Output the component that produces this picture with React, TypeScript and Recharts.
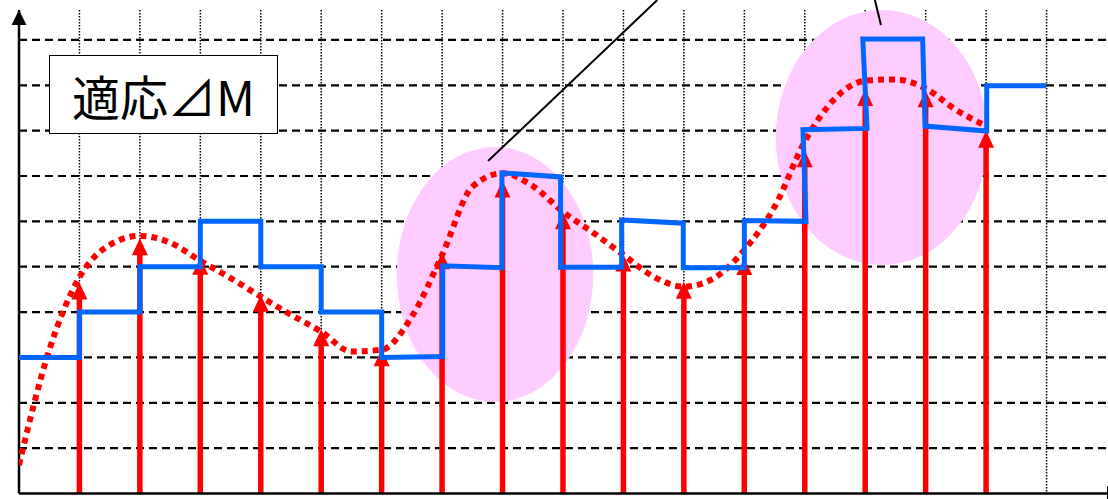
import React from "react";
import { ComposedChart, XAxis, YAxis, Bar, Line, CartesianGrid, ReferenceLine, ReferenceArea, ReferenceDot } from "recharts";

// sample positions (grid index) and the height reached by each red arrow
const sampleIdx = [1, 2, 3, 4, 5, 6, 7, 8, 9, 10, 11, 12, 13, 14, 15, 16];
const sampleVal = [4.65, 5.63, 5.2, 4.38, 3.62, 3.18, 5.32, 6.9, 6.2, 5.27, 4.67, 5.19, 7.57, 8.92, 8.89, 8.0];

// dotted analog signal, read every half grid step
const curveIdx = [0, 0.5, 1, 1.5, 2, 2.5, 3, 3.5, 4, 4.5, 5, 5.5, 6, 6.5, 7, 7.5, 8, 8.5, 9, 9.5, 10, 10.5, 11, 11.5, 12, 12.5, 13, 13.5, 14, 14.5, 15, 15.5, 16];
const curveVal = [0.63, 3.16, 4.77, 5.48, 5.68, 5.53, 5.13, 4.75, 4.34, 3.94, 3.57, 3.13, 3.17, 3.9, 5.26, 6.76, 7.06, 6.78, 6.21, 5.75, 5.26, 4.78, 4.56, 4.75, 5.37, 6.32, 7.76, 8.71, 9.1, 9.13, 8.93, 8.46, 8.1];

// staircase (adaptive delta modulation output) vertices
const stepX = [0, 1, 1, 2, 2, 3, 3, 4, 4, 5, 5, 6, 6, 7.01, 7.01, 7.99, 7.99, 8.96, 8.96, 9.97, 9.97, 10.99, 10.99, 12, 12, 13.02, 12.97, 14.03, 13.96, 14.95, 14.99, 16.01, 16.01, 16.99];
const stepY = [3, 3, 4, 4, 5, 5, 6, 6, 5, 5, 4, 4, 3, 3.02, 5.02, 4.98, 7.07, 6.98, 4.99, 4.99, 6.03, 5.96, 4.98, 4.98, 6.02, 6.0, 8.02, 8.05, 10.02, 10.02, 8.1, 7.99, 8.99, 8.99];

const gridX = [1, 2, 3, 4, 5, 6, 7, 8, 9, 10, 11, 12, 13, 14, 15, 16, 17];
const gridY = [1, 2, 3, 4, 5, 6, 7, 8, 9, 10];

// highlighted regions [x1, x2, y1, y2]
const highlights = [
  [6.25, 9.5, 2.02, 7.64],
  [12.52, 16.03, 5.04, 10.66],
];
// leader lines [x1, y1, x2, y2]
const leaders = [
  [7.76, 7.33, 10.56, 10.88],
  [14.26, 10.33, 14.16, 10.88],
];

const X_MAX = 18;
const Y_MAX = 10.66;

const samples = sampleIdx.map((x, i) => ({ x, v: sampleVal[i] }));
const curve = curveIdx.map((x, i) => ({ x, c: curveVal[i] }));
const steps = stepX.map((x, i) => ({ x, s: stepY[i] }));

const RED = "#FF0000";
const BLUE = "#0066FF";

const ArrowBar = (p: any) => {
  const cx = p.x + p.width / 2;
  const top = p.y;
  const bottom = p.y + p.height;
  return (
    <g>
      <rect x={cx - 2.75} y={top + 14} width={5.5} height={Math.max(0, bottom - top - 14)} fill={RED} />
      <polygon points={`${cx - 8},${top + 17} ${cx + 8},${top + 17} ${cx},${top}`} fill={RED} />
    </g>
  );
};

const Ellipse = (p: any) => (
  <ellipse cx={p.x + p.width / 2} cy={p.y + p.height / 2} rx={p.width / 2} ry={p.height / 2} fill="#FFCCFF" />
);

const UpHead = (p: any) => (
  <polygon points={`${p.cx - 7.5},${p.cy + 15} ${p.cx + 7.5},${p.cy + 15} ${p.cx},${p.cy}`} fill="#000" />
);
const RightHead = (p: any) => (
  <polygon points={`${p.cx},${p.cy - 7.5} ${p.cx},${p.cy + 7.5} ${p.cx + 15},${p.cy}`} fill="#000" />
);

// grid positions follow the plot box, the same linear mapping as the axes
const hGen = (props: any) => {
  const o = props.offset;
  return gridY.map((v) => o.top + o.height * (1 - v / Y_MAX));
};
const vGen = (props: any) => {
  const o = props.offset;
  return gridX.map((v) => o.left + (o.width * v) / X_MAX);
};

export default function App() {
  return (
    <div style={{ position: "absolute", left: 0, top: 0, width: 1108, height: 499, overflow: "hidden", background: "#fff" }}>
      <ComposedChart
        width={1108}
        height={499}
        data={samples}
        margin={{ top: 10, right: 1, bottom: 5.5, left: 19 }}
      >
        <XAxis type="number" dataKey="x" domain={[0, X_MAX]} ticks={gridX} hide allowDataOverflow />
        <YAxis type="number" domain={[0, Y_MAX]} ticks={gridY} hide allowDataOverflow />

        {highlights.map(([x1, x2, y1, y2], i) => (
          <ReferenceArea key={"h" + i} x1={x1} x2={x2} y1={y1} y2={y2} ifOverflow="visible" shape={Ellipse} />
        ))}

        <CartesianGrid
          vertical={false}
          horizontalCoordinatesGenerator={hGen}
          stroke="#000"
          strokeWidth={2.2}
          strokeDasharray="8 5"
        />
        <CartesianGrid
          horizontal={false}
          verticalCoordinatesGenerator={vGen}
          stroke="#000"
          strokeWidth={1.5}
          strokeDasharray="1.5 1.5"
        />

        <ReferenceLine x={0} stroke="#000" strokeWidth={2.5} />
        <ReferenceLine y={0} stroke="#000" strokeWidth={2.5} />
        <ReferenceDot x={0} y={Y_MAX} ifOverflow="visible" shape={UpHead} />
        <ReferenceDot x={X_MAX} y={0} ifOverflow="visible" shape={RightHead} />

        {leaders.map(([x1, y1, x2, y2], i) => (
          <ReferenceLine
            key={"l" + i}
            segment={[{ x: x1, y: y1 }, { x: x2, y: y2 }]}
            ifOverflow="visible"
            stroke="#000"
            strokeWidth={2}
          />
        ))}

        <Line
          data={curve}
          dataKey="c"
          type="monotone"
          stroke={RED}
          strokeWidth={6}
          strokeDasharray="6 5"
          dot={false}
          isAnimationActive={false}
        />
        <Bar dataKey="v" barSize={16} shape={ArrowBar} isAnimationActive={false} />
        <Line
          data={steps}
          dataKey="s"
          type="linear"
          stroke={BLUE}
          strokeWidth={5}
          strokeLinejoin="miter"
          dot={false}
          isAnimationActive={false}
        />
      </ComposedChart>
      <div
        style={{
          position: "absolute",
          left: 49,
          top: 55,
          width: 229,
          height: 79,
          boxSizing: "border-box",
          border: "1.5px solid #000",
          background: "#fff",
          display: "flex",
          alignItems: "center",
          justifyContent: "center",
          fontFamily: '"Noto Sans CJK JP", sans-serif',
          fontSize: 48,
          fontWeight: 400,
          lineHeight: 1,
          color: "#000",
        }}
      >
        適応⊿M
      </div>
    </div>
  );
}
